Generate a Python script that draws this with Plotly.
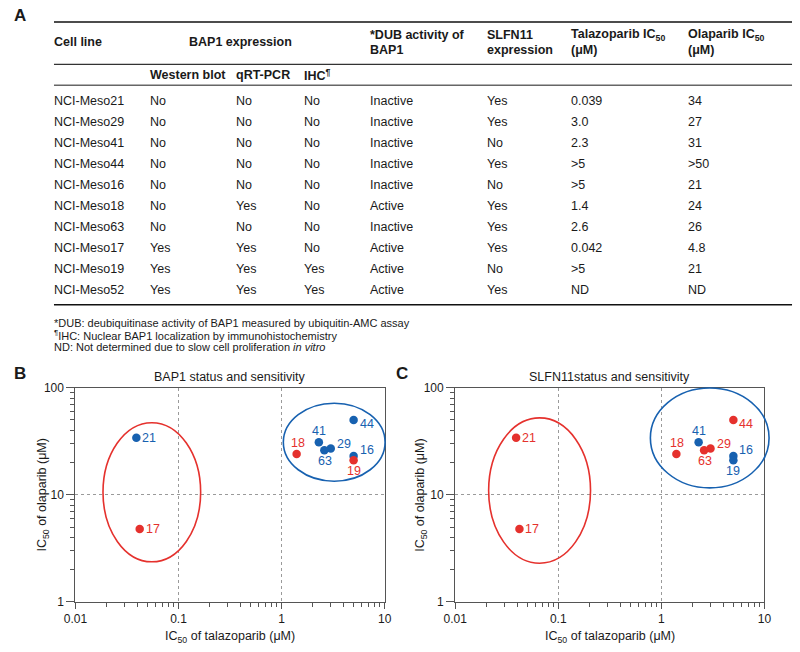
import math
import plotly.graph_objects as go

W, H = 800, 652
FONT = "Liberation Sans, Arial, Helvetica, sans-serif"
BLUE = "#1761b0"
RED = "#e5312d"
TXT = "#1a1a1a"

# ---------------- table data ----------------
cell_lines = ["NCI-Meso21", "NCI-Meso29", "NCI-Meso41", "NCI-Meso44", "NCI-Meso16",
              "NCI-Meso18", "NCI-Meso63", "NCI-Meso17", "NCI-Meso19", "NCI-Meso52"]
western_blot = ["No", "No", "No", "No", "No", "No", "No", "Yes", "Yes", "Yes"]
qrt_pcr = ["No", "No", "No", "No", "No", "Yes", "No", "Yes", "Yes", "Yes"]
ihc = ["No", "No", "No", "No", "No", "No", "No", "No", "Yes", "Yes"]
dub_activity = ["Inactive", "Inactive", "Inactive", "Inactive", "Inactive",
                "Active", "Inactive", "Active", "Active", "Active"]
slfn11 = ["Yes", "Yes", "No", "Yes", "No", "Yes", "Yes", "Yes", "No", "Yes"]
talazoparib_ic50 = ["0.039", "3.0", "2.3", ">5", ">5", "1.4", "2.6", "0.042", ">5", "ND"]
olaparib_ic50 = ["34", "27", "31", ">50", "21", "24", "26", "4.8", "21", "ND"]

header_top = ["Cell line", "BAP1 expression"]
header_two_line = [("*DUB activity of", "BAP1"), ("SLFN11", "expression"),
                   ("Talazoparib IC<sub>50</sub>", "(μM)"), ("Olaparib IC<sub>50</sub>", "(μM)")]
header_sub = ["Western blot", "qRT-PCR", "IHC<sup>¶</sup>"]
footnotes = ["*DUB: deubiquitinase activity of BAP1 measured by ubiquitin-AMC assay",
             "<sup>¶</sup>IHC: Nuclear BAP1 localization by immunohistochemistry",
             "ND: Not determined due to slow cell proliferation <i>in vitro</i>"]

# ---------------- plotted points ----------------
point_ids = ["21", "29", "41", "44", "16", "18", "63", "17", "19"]
point_talazoparib = [0.039, 3.0, 2.3, 5, 5, 1.4, 2.6, 0.042, 5]
point_olaparib = [34, 27, 31, 50, 23, 24, 26, 4.8, 21]
point_dub = dub_activity[:9]
point_slfn11 = slfn11[:9]

x_tick_vals = [0.01, 0.1, 1, 10]
x_tick_text = ["0.01", "0.1", "1", "10"]
y_tick_vals = [1, 10, 100]
y_tick_text = ["1", "10", "100"]

# ellipse bounds in data units: (x0, x1, y0, y1)
ellipses_B = [((0.0185, 0.164, 2.37, 47.1), RED), ((1.04, 10.1, 13.4, 71.6), BLUE)]
ellipses_C = [((0.0211, 0.2056, 2.30, 52.2), RED), ((0.783, 11.1, 11.6, 99.3), BLUE)]

# label offsets (pixels, right / down) relative to the point
label_offsets = {"21": (13, 0), "17": (13, 0), "44": (13, 4.5), "41": (0, -11),
                 "29": (13, -5), "63": (1, 11), "16": (13, -6), "19": (0, 10.5),
                 "18": (1, -11)}


def px(x):
    return x / W


def py(y):
    return 1 - y / H


fig = go.Figure()
annotations = []
shapes = []


def text(x, y, s, size=12.5, xanchor="left", color=TXT, bold=False, ref=("paper", "paper"), **kw):
    if bold:
        s = "<b>" + s + "</b>"
    annotations.append(dict(x=x, y=y, xref=ref[0], yref=ref[1], text=s, showarrow=False,
                            xanchor=xanchor, yanchor="middle", borderpad=0,
                            font=dict(family=FONT, size=size, color=color), **kw))


# ---------------- Panel A: table ----------------
text(px(1), py(9), "A", size=17, bold=True)
rule_x0, rule_x1 = 43, 799
for ry, col, wdt in [(15.3, "#111", 1.6), (58.7, "#333", 1.2), (80, "#666", 1.6), (304.3, "#111", 1.6)]:
    shapes.append(dict(type="line", xref="paper", yref="paper", x0=px(rule_x0), x1=px(rule_x1),
                       y0=py(ry), y1=py(ry), line=dict(color=col, width=wdt)))

col_x = [42, 140, 228, 298, 366, 486, 572, 691]
text(px(col_x[0]), py(36), header_top[0], bold=True)
text(px(234), py(36), header_top[1], bold=True, xanchor="center")
for (l1, l2), cx in zip(header_two_line, col_x[4:]):
    text(px(cx), py(29), l1, bold=True)
    text(px(cx), py(43.5), l2, bold=True)
for s, cx in zip(header_sub, col_x[1:4]):
    text(px(cx), py(69), s, bold=True)

columns = [cell_lines, western_blot, qrt_pcr, ihc, dub_activity, slfn11, talazoparib_ic50, olaparib_ic50]
for i in range(len(cell_lines)):
    ry = 95.7 + i * 21.51
    for col, cx in zip(columns, col_x):
        text(px(cx), py(ry), col[i])

for i, fn in enumerate(footnotes):
    text(px(42), py(323.3 + i * 11.9), fn, size=11)

# ---------------- Panels B and C: scatter ----------------
panels = [
    dict(xa="x", ya="y", dom=(65, 381.7), colors=[RED if d == "Active" else BLUE for d in point_dub],
         title="BAP1 status and sensitivity", letter="B", letter_x=1, ell=ellipses_B, ytitle_x=31.5),
    dict(xa="x2", ya="y2", dom=(454, 770.7), colors=[RED if s == "Yes" else BLUE for s in point_slfn11],
         title="SLFN11status and sensitivity", letter="C", letter_x=392, ell=ellipses_C, ytitle_x=419),
]
y_top, y_bot = 389, 608

for p in panels:
    fig.add_trace(go.Scatter(x=point_talazoparib, y=point_olaparib, mode="markers",
                             marker=dict(size=8.5, color=p["colors"], line=dict(width=0)),
                             xaxis=p["xa"], yaxis=p["ya"], showlegend=False, hoverinfo="skip",
                             cliponaxis=False))
    for pid, xv, yv, c in zip(point_ids, point_talazoparib, point_olaparib, p["colors"]):
        dx, dy = label_offsets[pid]
        annotations.append(dict(x=math.log10(xv), y=math.log10(yv), xref=p["xa"], yref=p["ya"],
                                text=pid, showarrow=False, xanchor="center", yanchor="middle",
                                xshift=dx, yshift=-dy, borderpad=0,
                                font=dict(family=FONT, size=12.5, color=c)))
    for (x0, x1, y0, y1), c in p["ell"]:
        fx = lambda v: (math.log10(v) + 2) / 3
        fy = lambda v: math.log10(v) / 2
        shapes.append(dict(type="circle", xref=p["xa"] + " domain", yref=p["ya"] + " domain",
                           x0=fx(x0), x1=fx(x1), y0=fy(y0), y1=fy(y1),
                           line=dict(color=c, width=1.6), layer="above"))
    cx = (p["dom"][0] + p["dom"][1]) / 2
    text(px(cx), py(378), p["title"], xanchor="center")
    text(px(p["letter_x"]), py(375), p["letter"], size=17, bold=True)
    text(px(cx), py(643.5), "IC<sub>50</sub> of talazoparib (μM)", xanchor="center")
    text(px(p["ytitle_x"]), py((y_top + y_bot) / 2), "IC<sub>50</sub> of olaparib (μM)",
         xanchor="center", textangle=-90)

minor_x = [k * 10 ** e for e in range(-2, 1) for k in range(2, 10)]
minor_y = [k * 10 ** e for e in range(0, 2) for k in range(2, 10)]

axis_common = dict(type="log", showline=True, linecolor="#555", linewidth=1.3, mirror=True,
                   ticks="outside", ticklen=6, tickwidth=1.2, tickcolor="#555",
                   showgrid=True, gridcolor="#9a9a9a", griddash="dot", gridwidth=1,
                   zeroline=False, tickfont=dict(family=FONT, size=12, color=TXT))
xaxis_kw = dict(axis_common, range=[-2, 1], tickmode="array", tickvals=x_tick_vals, ticktext=x_tick_text,
                minor=dict(tickmode="array", tickvals=minor_x, ticks="outside", ticklen=3.5,
                           tickcolor="#555", showgrid=False))
yaxis_kw = dict(axis_common, range=[0, 2], tickmode="array", tickvals=y_tick_vals, ticktext=y_tick_text,
                ticklen=8,
                minor=dict(tickmode="array", tickvals=minor_y, ticks="outside", ticklen=4,
                           tickcolor="#555", showgrid=False))

fig.update_layout(
    width=W, height=H, margin=dict(l=0, r=0, t=0, b=0),
    paper_bgcolor="white", plot_bgcolor="white", showlegend=False,
    xaxis=dict(xaxis_kw, domain=[px(65), px(381.7)], anchor="y"),
    yaxis=dict(yaxis_kw, domain=[py(y_bot), py(y_top)], anchor="x"),
    xaxis2=dict(xaxis_kw, domain=[px(454), px(770.7)], anchor="y2"),
    yaxis2=dict(yaxis_kw, domain=[py(y_bot), py(y_top)], anchor="x2"),
    annotations=annotations, shapes=shapes,
)

# remove the browser's default 8px body margin so the figure sits at the page origin
fig.write_html("out.html", post_script="document.body.style.margin='0px';",
               config={"displayModeBar": False})
